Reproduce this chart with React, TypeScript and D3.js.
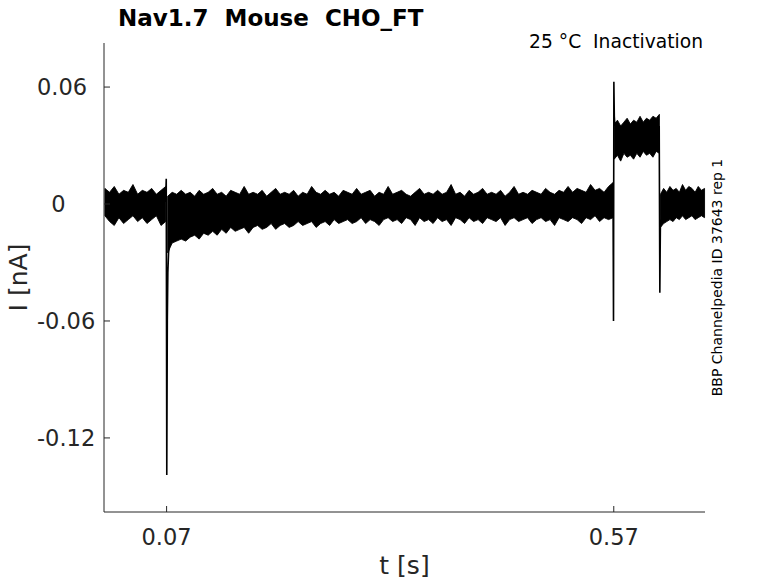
import * as d3 from "d3";

// time window [s] and current window [nA]
const tDomain = [0, 0.672];
const iDomain = [-0.158, 0.0826];

const xTicks = [0.07, 0.57];
const xTickLabels = ["0.07", "0.57"];
const yTicks = [-0.12, -0.06, 0, 0.06];
const yTickLabels = ["-0.12", "-0.06", "  0", "0.06"];

// noise envelope of the overlaid sweeps, one block per holding level
const segStart = [0.001, 0.0712, 0.5705, 0.6222];
const segEnd = [0.069, 0.5692, 0.621, 0.6715];

const hi1 = [0.008, 0.006, 0.009, 0.005, 0.007, 0.006, 0.01, 0.005, 0.007, 0.006, 0.008, 0.005, 0.007, 0.009];
const lo1 = [-0.006, -0.009, -0.011, -0.007, -0.01, -0.008, -0.006, -0.009, -0.007, -0.01, -0.008, -0.006, -0.011, -0.009];

const hi2 = [
  0.004, 0.006, 0.005, 0.007, 0.005, 0.006, 0.004, 0.007, 0.005, 0.006,
  0.008, 0.005, 0.006, 0.004, 0.007, 0.006, 0.005, 0.009, 0.005, 0.006,
  0.005, 0.007, 0.004, 0.006, 0.008, 0.005, 0.006, 0.005, 0.007, 0.004,
  0.006, 0.005, 0.009, 0.006, 0.005, 0.007, 0.005, 0.006, 0.004, 0.007,
  0.006, 0.005, 0.008, 0.005, 0.006, 0.007, 0.004, 0.006, 0.005, 0.009,
  0.005, 0.006, 0.007, 0.005, 0.004, 0.006, 0.008, 0.005, 0.006, 0.005,
  0.007, 0.005, 0.006, 0.01, 0.005, 0.006, 0.004, 0.007, 0.005, 0.006,
  0.008, 0.005, 0.006, 0.005, 0.007, 0.004, 0.006, 0.009, 0.005, 0.006,
  0.005, 0.007, 0.006, 0.005, 0.008, 0.006, 0.005, 0.007, 0.006, 0.009,
  0.006, 0.008, 0.007, 0.006, 0.01, 0.007, 0.008, 0.006, 0.009, 0.011,
];
const lo2 = [
  -0.025, -0.02, -0.019, -0.018, -0.019, -0.017, -0.016, -0.018, -0.015, -0.016,
  -0.014, -0.016, -0.013, -0.015, -0.012, -0.014, -0.013, -0.012, -0.015, -0.012,
  -0.011, -0.013, -0.012, -0.01, -0.013, -0.011, -0.01, -0.012, -0.011, -0.009,
  -0.011, -0.01, -0.009, -0.012, -0.01, -0.009, -0.011, -0.008, -0.01, -0.009,
  -0.008, -0.01, -0.009, -0.007, -0.01, -0.008, -0.009, -0.011, -0.008, -0.007,
  -0.009, -0.008, -0.01, -0.007, -0.008, -0.011, -0.007, -0.009, -0.008, -0.01,
  -0.007, -0.009, -0.008, -0.011, -0.007, -0.008, -0.01, -0.007, -0.009, -0.008,
  -0.01, -0.007, -0.008, -0.009, -0.007, -0.011, -0.008, -0.007, -0.009, -0.008,
  -0.007, -0.01, -0.008, -0.007, -0.009, -0.008, -0.011, -0.007, -0.008, -0.009,
  -0.007, -0.008, -0.01, -0.007, -0.008, -0.006, -0.009, -0.007, -0.008, -0.007,
];

const hi3 = [0.041, 0.043, 0.04, 0.042, 0.044, 0.041, 0.043, 0.042, 0.045, 0.042, 0.044, 0.043, 0.045, 0.044, 0.046];
const lo3 = [0.023, 0.025, 0.022, 0.026, 0.024, 0.025, 0.023, 0.026, 0.024, 0.027, 0.025, 0.026, 0.024, 0.027, 0.026];

const hi4 = [0.005, 0.008, 0.006, 0.009, 0.007, 0.008, 0.006, 0.01, 0.007, 0.009, 0.008, 0.006, 0.009, 0.007, 0.008];
const lo4 = [-0.012, -0.01, -0.009, -0.008, -0.009, -0.007, -0.008, -0.006, -0.008, -0.007, -0.006, -0.008, -0.007, -0.006, -0.007];

const segHi = [hi1, hi2, hi3, hi4];
const segLo = [lo1, lo2, lo3, lo4];

// capacitive transients at the voltage steps
const spike1T = [0.0688, 0.0696, 0.0702, 0.0708, 0.0714, 0.0722, 0.0735];
const spike1V = [0.001, 0.013, -0.139, -0.06, -0.035, -0.025, -0.02];
const spike2T = [0.5692, 0.5697, 0.5701, 0.5706, 0.5712];
const spike2V = [0.0, -0.06, 0.0627, 0.045, 0.04];
const spike3T = [0.6208, 0.6215, 0.6221, 0.6228];
const spike3V = [0.04, -0.0455, -0.012, -0.008];

const W = 778;
const H = 583;
const left = 104;
const right = 705;
const top = 43;
const bottom = 512;
const axisColor = "#262626";
const font = "DejaVu Sans";

export default function App() {
  const x = d3.scaleLinear().domain(tDomain).range([left, right]);
  const y = d3.scaleLinear().domain(iDomain).range([bottom, top]);

  const bands = segHi.map((hi, s) => {
    const lo = segLo[s];
    const n = hi.length;
    const tAt = (i: number) => segStart[s] + ((segEnd[s] - segStart[s]) * i) / (n - 1);
    const area = d3
      .area<number>()
      .x((_, i) => x(tAt(i)))
      .y0((_, i) => y(lo[i]))
      .y1((d) => y(d));
    return area(hi) as string;
  });

  const spikePath = (ts: number[], vs: number[]) =>
    d3
      .line<number>()
      .x((d) => x(d))
      .y((_, i) => y(vs[i]))(ts) as string;

  return (
    <svg
      width={W}
      height={H}
      style={{ position: "absolute", left: 0, top: 0, background: "#fff" }}
      fontFamily={font}
    >
      <rect width={W} height={H} fill="#fff" />

      {bands.map((d, i) => (
        <path key={i} d={d} fill="#000" stroke="#000" strokeWidth={0.9} strokeLinejoin="bevel" />
      ))}
      {[
        [spike1T, spike1V],
        [spike2T, spike2V],
        [spike3T, spike3V],
      ].map(([ts, vs], i) => (
        <path key={i} d={spikePath(ts, vs)} fill="none" stroke="#000" strokeWidth={1.6} />
      ))}

      {/* axes */}
      <line x1={left} x2={left} y1={top} y2={bottom} stroke={axisColor} strokeWidth={1} />
      <line x1={left} x2={right} y1={bottom} y2={bottom} stroke={axisColor} strokeWidth={1} />
      {yTicks.map((t, i) => (
        <g key={t}>
          <line x1={left} x2={left + 6} y1={y(t)} y2={y(t)} stroke={axisColor} />
          <text
            x={37}
            y={y(t)}
            dy="0.36em"
            fontSize={22.5}
            fill={axisColor}
            style={{ whiteSpace: "pre" }}
          >
            {yTickLabels[i]}
          </text>
        </g>
      ))}
      {xTicks.map((t, i) => (
        <g key={t}>
          <line x1={x(t)} x2={x(t)} y1={bottom} y2={bottom - 6} stroke={axisColor} />
          <text x={x(t)} y={545} textAnchor="middle" fontSize={22.5} fill={axisColor}>
            {xTickLabels[i]}
          </text>
        </g>
      ))}

      <text x={(left + right) / 2} y={574} textAnchor="middle" fontSize={25} fill={axisColor}>
        t [s]
      </text>
      <text
        transform={`translate(27,${(top + bottom) / 2}) rotate(-90)`}
        textAnchor="middle"
        fontSize={25}
        fill={axisColor}
      >
        I [nA]
      </text>

      <text x={118} y={26} fontSize={23} fontWeight="bold" fill="#000" style={{ whiteSpace: "pre" }}>
        Nav1.7  Mouse  CHO_FT
      </text>
      <text x={703} y={47.5} textAnchor="end" fontSize={18.7} fill="#000" style={{ whiteSpace: "pre" }}>
        25 °C  Inactivation
      </text>
      <text
        transform={`translate(722,${(top + bottom) / 2}) rotate(-90)`}
        textAnchor="middle"
        fontSize={14}
        fill="#000"
      >
        BBP Channelpedia ID 37643 rep 1
      </text>
    </svg>
  );
}
